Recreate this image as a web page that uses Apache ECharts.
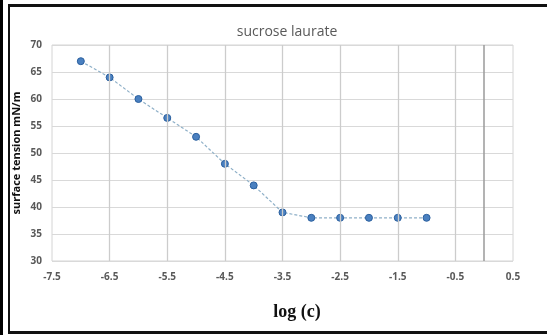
<!DOCTYPE html>
<html>
<head>
<meta charset="utf-8">
<script src="https://cdn.jsdelivr.net/npm/echarts@6/dist/echarts.min.js"></script>
<style>
  html, body { margin: 0; padding: 0; background: #fff; }
  #chart { width: 547px; height: 335px; }
</style>
</head>
<body>
<div id="chart"></div>
<script>
// log concentration vs surface tension
var logC = [-7, -6.5, -6, -5.5, -5, -4.5, -4, -3.5, -3, -2.5, -2, -1.5, -1];
var tension = [67, 64, 60, 56.5, 53, 48, 44, 39, 38, 38, 38, 38, 38];

// excel style vertical gridlines (every 1 from -7.5) and the y axis crossing at 0
var xGrid = [-6.5, -5.5, -4.5, -3.5, -2.5, -1.5, -0.5];
var xCross = 0;

var points = logC.map(function (v, i) { return [v, tension[i]]; });

var chart = echarts.init(document.getElementById('chart'));

var markData = xGrid.map(function (v) {
    return { xAxis: v, lineStyle: { color: '#cccccc', width: 1.3, type: 'solid' } };
});
markData.push({ xAxis: xCross, lineStyle: { color: '#9a9a9a', width: 1.5, type: 'solid' } });

var option = {
    animation: false,
    title: [
        {
            text: 'sucrose laurate',
            left: 282,
            top: 20,
            textAlign: 'center',
            textStyle: { fontFamily: 'Open Sans', fontSize: 14, fontWeight: 'normal', color: '#595959' }
        },
        {
            text: 'log (c)',
            left: 292,
            top: 298,
            textAlign: 'center',
            textStyle: { fontFamily: 'Liberation Serif', fontSize: 18, fontWeight: 'bold', color: '#111' }
        }
    ],
    grid: {
        left: 52, right: 34, top: 45, bottom: 74,
        show: true,
        borderColor: '#d4d4d4',
        borderWidth: 1
    },
    xAxis: {
        type: 'value',
        min: -7.5,
        max: 0.5,
        interval: 0.5,
        axisLine: { show: false },
        axisTick: { show: false },
        splitLine: { show: false },
        axisLabel: {
            margin: 11,
            fontFamily: 'Open Sans',
            fontSize: 10,
            fontWeight: 'bold',
            color: '#595959',
            formatter: function (v) {
                return Math.abs((v + 7.5) % 1) < 1e-6 ? String(v) : '';
            }
        }
    },
    yAxis: {
        type: 'value',
        min: 30,
        max: 70,
        interval: 5,
        name: 'surface tension mN/m',
        nameLocation: 'middle',
        nameGap: 30,
        nameMoveOverlap: false,
        nameTextStyle: { fontFamily: 'Open Sans', fontSize: 11, fontWeight: 'bold', color: '#111' },
        axisLine: { show: false },
        axisTick: { show: false },
        splitLine: { lineStyle: { color: '#d9d9d9', width: 1 } },
        axisLabel: {
            margin: 10,
            fontFamily: 'Open Sans',
            fontSize: 10,
            fontWeight: 'bold',
            color: '#595959'
        }
    },
    series: [
        {
            type: 'line',
            data: [],
            silent: true,
            z: 1,
            markLine: {
                silent: true,
                symbol: 'none',
                label: { show: false },
                data: markData
            }
        },
        {
            type: 'line',
            data: points,
            z: 3,
            symbol: 'circle',
            symbolSize: 7,
            lineStyle: { color: '#8fb0c8', width: 1.2, type: [3, 2] },
            itemStyle: { color: '#4a80c0', borderColor: '#2a5f9e', borderWidth: 1 }
        }
    ],
    graphic: [
        { type: 'rect', shape: { x: 0, y: 0, width: 3, height: 335 }, style: { fill: '#000' } },
        { type: 'rect', shape: { x: 8, y: 5, width: 2, height: 329 }, style: { fill: '#111' } },
        { type: 'rect', shape: { x: 8, y: 4, width: 539, height: 3 }, style: { fill: '#111' } },
        { type: 'rect', shape: { x: 8, y: 331, width: 539, height: 3 }, style: { fill: '#111' } }
    ]
};

chart.setOption(option);
</script>
</body>
</html>
